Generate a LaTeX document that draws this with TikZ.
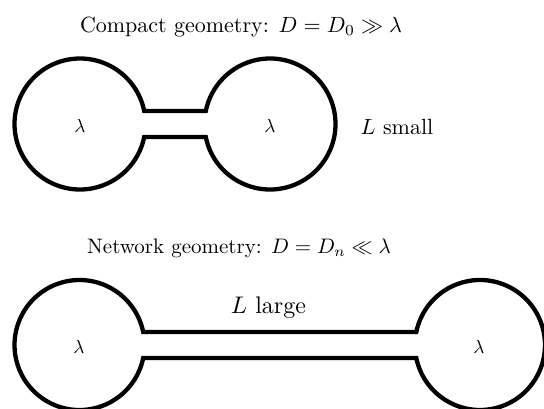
\documentclass[tikz,border=0pt]{standalone}
\begin{document}
\begin{tikzpicture}[x=1pt,y=1pt,
  bell/.style={line width=4.3pt, line join=miter},
  title/.style={anchor=base, transform shape, scale=2.2},
  lab/.style={anchor=base, transform shape, scale=2.2},
  lam/.style={transform shape, scale=1.9}]
\useasboundingbox (0,0) rectangle (544,-408);
\clip (0,0) rectangle (544,-408);
% top dumbbell
\draw[bell] (144.2,-111) arc[start angle=11.45, end angle=348.55, radius=65.5]
  -- (205.8,-137) arc[start angle=191.45, end angle=528.55, radius=65.5] -- cycle;
% bottom dumbbell
\draw[bell] (143.2,-332) arc[start angle=11.55, end angle=348.45, radius=65]
  -- (416.3,-358) arc[start angle=191.55, end angle=528.45, radius=65] -- cycle;
\node[title] (t1) at (241,-32) {Compact geometry: $D=D_0\gg\lambda$};
\node[title, scale=2.1/2.2] (t2) at (239,-253) {Network geometry: $D=D_n\ll\lambda$};
\node[lam] (l1) at (80,-126) {$\lambda$};
\node[lam] (l2) at (270,-126) {$\lambda$};
\node[lam] (l3) at (79,-347) {$\lambda$};
\node[lam] (l4) at (479,-347) {$\lambda$};
\node[lab] (ls) at (397,-134) {$L$ small};
\node[lab, scale=2.4/2.2] (ll) at (268.5,-313) {$L$ large};
\end{tikzpicture}
\end{document}
